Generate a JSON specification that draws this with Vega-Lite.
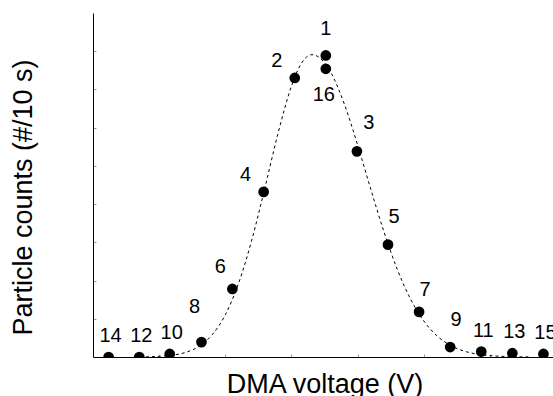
{
  "$schema": "https://vega.github.io/schema/vega-lite/v6.json",
  "width": 463,
  "height": 344,
  "autosize": {"type": "none"},
  "padding": {"left": 93, "top": 13, "right": 0, "bottom": 39},
  "config": {
    "view": {"stroke": null},
    "font": "Liberation Sans",
    "axis": {"grid": false, "labels": false, "domainColor": "black", "domainWidth": 1, "tickSize": -3, "tickColor": "#999999", "titleFont": "Liberation Sans", "titleFontSize": 27, "titleFontWeight": "normal", "titleColor": "black", "titleBaseline": "alphabetic"}
  },
  "datasets": {
    "pts": [
      {"label": "14", "x": 0.236, "y": 0.0},
      {"label": "12", "x": 0.70, "y": 0.0},
      {"label": "10", "x": 1.16, "y": 0.08},
      {"label": "8", "x": 1.64, "y": 0.39},
      {"label": "6", "x": 2.107, "y": 1.78},
      {"label": "4", "x": 2.58, "y": 4.32},
      {"label": "2", "x": 3.05, "y": 7.30},
      {"label": "1", "x": 3.52, "y": 7.89},
      {"label": "16", "x": 3.52, "y": 7.54},
      {"label": "3", "x": 3.99, "y": 5.38},
      {"label": "5", "x": 4.46, "y": 2.94},
      {"label": "7", "x": 4.93, "y": 1.18},
      {"label": "9", "x": 5.40, "y": 0.26},
      {"label": "11", "x": 5.87, "y": 0.14},
      {"label": "13", "x": 6.34, "y": 0.10},
      {"label": "15", "x": 6.81, "y": 0.08}
    ],
    "curve": [
      {"x": 0.8, "y": 0.004},
      {"x": 1.0, "y": 0.017},
      {"x": 1.2, "y": 0.048},
      {"x": 1.4, "y": 0.12},
      {"x": 1.6, "y": 0.276},
      {"x": 1.8, "y": 0.578},
      {"x": 2.0, "y": 1.103},
      {"x": 2.2, "y": 1.923},
      {"x": 2.4, "y": 3.057},
      {"x": 2.6, "y": 4.435},
      {"x": 2.8, "y": 5.868},
      {"x": 3.0, "y": 7.084},
      {"x": 3.1, "y": 7.519},
      {"x": 3.2, "y": 7.801},
      {"x": 3.31, "y": 7.91},
      {"x": 3.4, "y": 7.86},
      {"x": 3.6, "y": 7.43},
      {"x": 3.8, "y": 6.617},
      {"x": 4.0, "y": 5.551},
      {"x": 4.2, "y": 4.389},
      {"x": 4.4, "y": 3.269},
      {"x": 4.6, "y": 2.295},
      {"x": 4.8, "y": 1.518},
      {"x": 5.0, "y": 0.946},
      {"x": 5.2, "y": 0.555},
      {"x": 5.4, "y": 0.307},
      {"x": 5.6, "y": 0.16},
      {"x": 5.8, "y": 0.079},
      {"x": 6.0, "y": 0.036},
      {"x": 6.2, "y": 0.016},
      {"x": 6.4, "y": 0.006},
      {"x": 6.6, "y": 0.002}
    ]
  },
  "encoding": {
    "x": {"field": "x", "type": "quantitative", "scale": {"domain": [0, 7], "nice": false, "zero": false},
      "axis": {"title": "DMA voltage (V)", "values": [1, 2, 3, 4, 5, 6], "titleY": 35}},
    "y": {"field": "y", "type": "quantitative", "scale": {"domain": [0, 9], "nice": false},
      "axis": {"title": "Particle counts (#/10 s)", "values": [1, 2, 3, 4, 5, 6, 7, 8], "titleX": -62, "titleY": 184}}
  },
  "layer": [
    {"data": {"name": "curve"}, "mark": {"type": "line", "interpolate": "monotone", "strokeDash": [3, 3], "strokeWidth": 1, "color": "black", "clip": true}},
    {"data": {"name": "pts"}, "mark": {"type": "point", "filled": true, "size": 115, "color": "black", "opacity": 1, "clip": true}},
    {"data": {"name": "pts"}, "transform": [{"filter": {"field": "label", "oneOf": ["14", "12", "10", "11", "13", "15"]}}],
      "mark": {"type": "text", "fontSize": 20, "color": "black", "align": "center", "baseline": "middle", "dx": 2, "dy": -21},
      "encoding": {"text": {"field": "label"}}},
    {"data": {"name": "pts"}, "transform": [{"filter": {"field": "label", "equal": "8"}}],
      "mark": {"type": "text", "fontSize": 20, "color": "black", "align": "center", "baseline": "middle", "dx": -7, "dy": -35},
      "encoding": {"text": {"field": "label"}}},
    {"data": {"name": "pts"}, "transform": [{"filter": {"field": "label", "equal": "6"}}],
      "mark": {"type": "text", "fontSize": 20, "color": "black", "align": "center", "baseline": "middle", "dx": -12, "dy": -22},
      "encoding": {"text": {"field": "label"}}},
    {"data": {"name": "pts"}, "transform": [{"filter": {"field": "label", "oneOf": ["4", "2"]}}],
      "mark": {"type": "text", "fontSize": 20, "color": "black", "align": "center", "baseline": "middle", "dx": -18, "dy": -16.5},
      "encoding": {"text": {"field": "label"}}},
    {"data": {"name": "pts"}, "transform": [{"filter": {"field": "label", "equal": "1"}}],
      "mark": {"type": "text", "fontSize": 20, "color": "black", "align": "center", "baseline": "middle", "dx": 0, "dy": -26},
      "encoding": {"text": {"field": "label"}}},
    {"data": {"name": "pts"}, "transform": [{"filter": {"field": "label", "equal": "16"}}],
      "mark": {"type": "text", "fontSize": 20, "color": "black", "align": "center", "baseline": "middle", "dx": -2, "dy": 26},
      "encoding": {"text": {"field": "label"}}},
    {"data": {"name": "pts"}, "transform": [{"filter": {"field": "label", "equal": "3"}}],
      "mark": {"type": "text", "fontSize": 20, "color": "black", "align": "center", "baseline": "middle", "dx": 12, "dy": -28},
      "encoding": {"text": {"field": "label"}}},
    {"data": {"name": "pts"}, "transform": [{"filter": {"field": "label", "oneOf": ["5", "9"]}}],
      "mark": {"type": "text", "fontSize": 20, "color": "black", "align": "center", "baseline": "middle", "dx": 6, "dy": -27.5},
      "encoding": {"text": {"field": "label"}}},
    {"data": {"name": "pts"}, "transform": [{"filter": {"field": "label", "equal": "7"}}],
      "mark": {"type": "text", "fontSize": 20, "color": "black", "align": "center", "baseline": "middle", "dx": 6, "dy": -22},
      "encoding": {"text": {"field": "label"}}}
  ]
}
